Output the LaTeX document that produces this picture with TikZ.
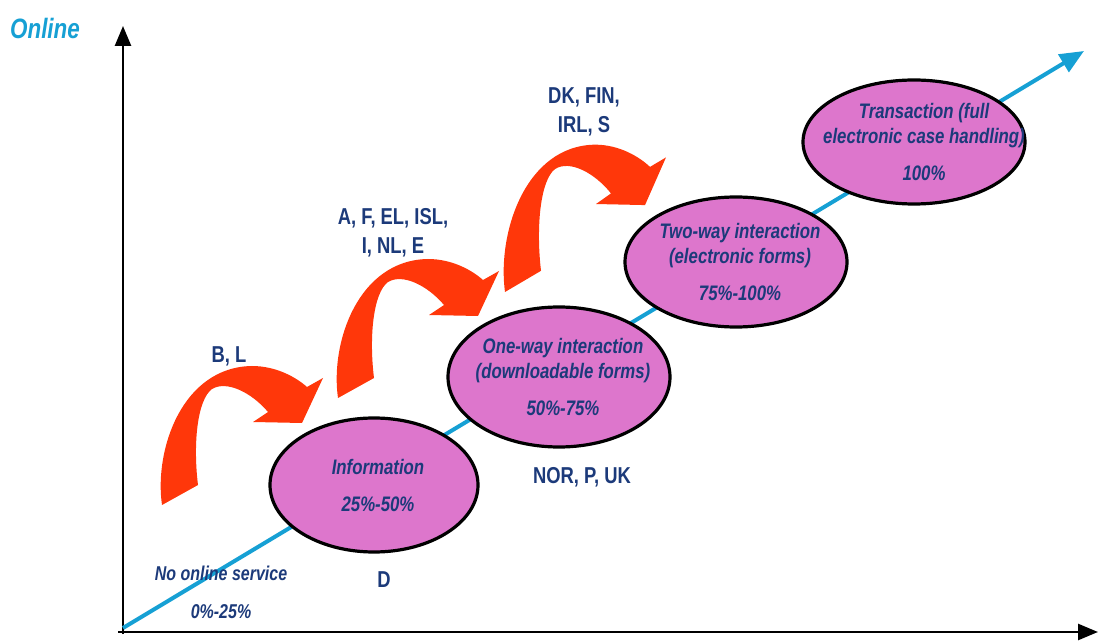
\documentclass[tikz,border=0pt]{standalone}
\usepackage{fontspec}
\setmainfont{Liberation Sans}[FakeStretch=0.8]
\usepackage{tikz}
\usetikzlibrary{shapes.geometric,arrows.meta}
\definecolor{stageblue}{RGB}{28,58,122}
\definecolor{lineblue}{RGB}{22,160,212}
\definecolor{stagepink}{RGB}{221,118,204}
\definecolor{jumpred}{RGB}{255,55,10}
\tikzset{
  stage/.style={ellipse, draw=black, line width=1.6pt, fill=stagepink, text=stageblue,
    font=\bfseries\itshape\fontsize{10.5}{12.5}\selectfont, align=center,
    inner ysep=0pt, inner xsep=-25pt, minimum width=111pt},
  country/.style={text=stageblue, font=\bfseries\fontsize{11.5}{14.5}\selectfont,
    align=center, inner sep=0pt},
  axis/.style={line width=1.3pt, -{Triangle[length=10pt,width=8pt]}}
}

\begin{document}
\begin{tikzpicture}[x=0.5pt,y=-0.5pt]
\useasboundingbox (0,0) rectangle (1098,641);
\coordinate (ytop) at (123,26);
\coordinate (ybot) at (123,634);
\coordinate (xleft) at (118,632);
\coordinate (xright) at (1098,632);
\coordinate (start) at (123,628);
\coordinate (tip) at (1084,51);
\draw[axis] (ybot) -- (ytop);
\draw[axis] (xleft) -- (xright);
\draw[line width=2pt, lineblue, -{Triangle[length=12pt,width=10pt]}] (start) -- (tip);

\node[stage, minimum width=104pt, minimum height=67pt] (info) at (374,485) {\hspace*{4pt}Information\\[6pt]\hspace*{4pt}25\%-50\%};
\node[stage, minimum height=70pt] (oneway) at (559,377) {\hspace*{4pt}One-way interaction\\\hspace*{4pt}(downloadable forms)\\[6pt]\hspace*{4pt}50\%-75\%};
\node[stage, minimum height=65pt] (twoway) at (736,262) {\hspace*{4pt}Two-way interaction\\\hspace*{4pt}(electronic forms)\\[6pt]\hspace*{4pt}75\%-100\%};
\node[stage, minimum height=62pt] (trans) at (914,142) {\hspace*{10pt}Transaction (full\\\hspace*{10pt}electronic case handling)\\[6pt]\hspace*{10pt}100\%};

\foreach \x/\y/\s in {162/505/1, 338/398/1, 505/292/1.06}
  \fill[jumpred, shift={(\x,\y)}, yscale=\s] (0,0) .. controls (-8,-55) and (20,-138) .. (90,-139)
    .. controls (115,-139) and (135,-127) .. (145,-118) -- (161,-127) -- (140,-82) -- (91,-83)
    -- (106,-93) .. controls (90,-112) and (65,-125) .. (50,-116)
    .. controls (35,-105) and (31,-60) .. (36,-20) -- cycle;

\node[country] (bl) at (229,356) {B, L};
\node[country] (afel) at (393,233) {A, F, EL, ISL,\\I, NL, E};
\node[country] (dkfin) at (584,112) {DK, FIN,\\IRL, S};
\node[country] (nor) at (582,477) {NOR, P, UK};
\node[country] (d) at (384,580) {D};
\node[text=stageblue, font=\bfseries\itshape\fontsize{10}{12}\selectfont, align=center, inner sep=0pt]
  (none) at (221,592) {No online service\\[7pt]0\%-25\%};
\node[text=lineblue, font=\bfseries\itshape\fontsize{14}{16}\selectfont, inner sep=0pt] (online) at (45,28) {Online};
\end{tikzpicture}
\end{document}
